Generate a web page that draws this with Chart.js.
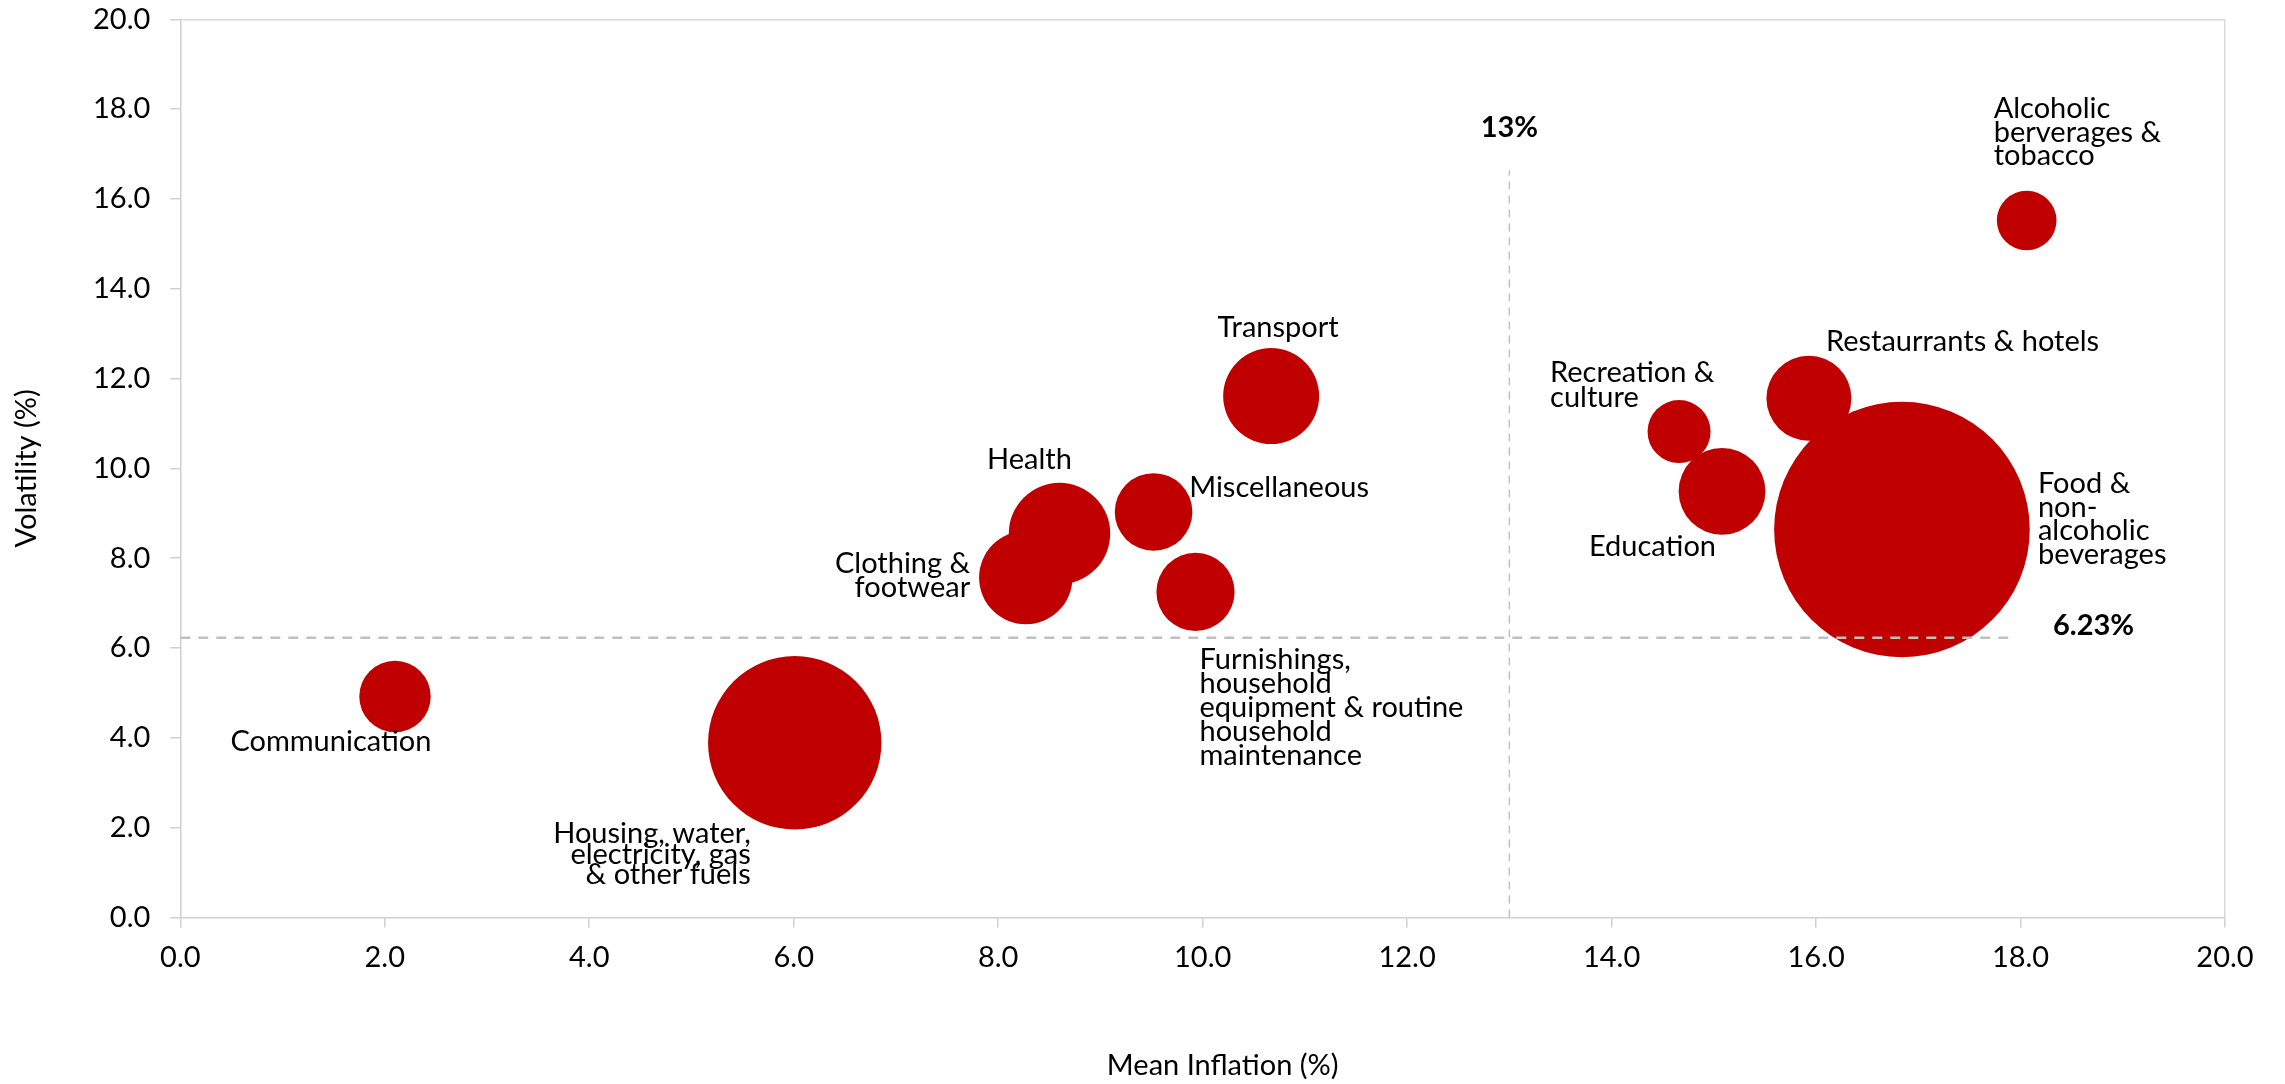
<!DOCTYPE html>
<html>
<head>
<meta charset="utf-8">
<title>Mean Inflation vs Volatility by CPI Group</title>
<script src="https://cdn.jsdelivr.net/npm/chart.js@4.4.1/dist/chart.umd.min.js"></script>
<style>
  html, body { margin: 0; padding: 0; background: #ffffff; }
  #wrap { width: 2285px; height: 1084px; position: relative; }
</style>
</head>
<body>
<div id="wrap"><canvas id="chart"></canvas></div>
<script>
// CPI groups
const categories = [
  'Food & non-alcoholic beverages',
  'Alcoholic berverages & tobacco',
  'Clothing & footwear',
  'Housing, water, electricity, gas & other fuels',
  'Furnishings, household equipment & routine household maintenance',
  'Health',
  'Transport',
  'Communication',
  'Recreation & culture',
  'Education',
  'Restaurrants & hotels',
  'Miscellaneous'
];

// Label text as wrapped on the chart
const labelLines = [
  ['Food &', 'non-', 'alcoholic', 'beverages'],
  ['Alcoholic', 'berverages &', 'tobacco'],
  ['Clothing &', 'footwear'],
  ['Housing, water,', 'electricity, gas', '& other fuels'],
  ['Furnishings,', 'household', 'equipment & routine', 'household', 'maintenance'],
  ['Health'],
  ['Transport'],
  ['Communication'],
  ['Recreation &', 'culture'],
  ['Education'],
  ['Restaurrants & hotels'],
  ['Miscellaneous']
];

// Mean inflation (%) - x
const meanInflation = [16.84, 18.06, 8.27, 6.01, 9.93, 8.60, 10.67, 2.10, 14.66, 15.08, 15.93, 9.52];
// Volatility (%) - y
const volatility = [8.64, 15.52, 7.57, 3.89, 7.25, 8.55, 11.61, 4.92, 10.82, 9.49, 11.56, 9.03];
// Bubble size (group weight)
const bubbleSize = [43.9, 2.39, 5.86, 20.2, 4.11, 6.91, 6.19, 3.43, 2.67, 5.06, 4.85, 4.05];

// Reference thresholds
const inflationThreshold = 13;       // vertical line
const inflationLineTop = 16.64;      // vertical line runs from 0 up to here
const volatilityThreshold = 6.23;    // horizontal line
const volatilityLineEnd = 17.95;     // horizontal line runs from 0 to here

// Axis ticks and titles
const axisMin = 0, axisMax = 20, axisStep = 2;
const xTitle = 'Mean Inflation (%)';
const yTitle = 'Volatility (%)';

// ---- styling / layout ----
const RED = '#C00000';
const FONT = 'Lato';
const FONT_SIZE = 29;
const MAX_RADIUS = 127.8;
const maxSize = Math.max(...bubbleSize);
const radiusOf = s => MAX_RADIUS * Math.sqrt(s / maxSize);

// label placement relative to the bubble centre (px): dx, dy to first baseline
const labelLayout = [
  { align: 'left',   dx: 136,   dy: -36.4, lh: 23.6 },
  { align: 'left',   dx: -33,   dy: -102,  lh: 23.3 },
  { align: 'right',  dx: -55.6, dy: -4.3,  lh: 23.4 },
  { align: 'right',  dx: -44,   dy: 100,   lh: 20.7 },
  { align: 'left',   dx: 4,     dy: 77.5,  lh: 24 },
  { align: 'center', dx: -30,   dy: -64.5, lh: 24 },
  { align: 'center', dx: 7,     dy: -59.5, lh: 24 },
  { align: 'right',  dx: 36.5,  dy: 54,    lh: 24 },
  { align: 'left',   dx: -129,  dy: -49.4, lh: 24.9 },
  { align: 'right',  dx: -6,    dy: 65,    lh: 24 },
  { align: 'left',   dx: 17,    dy: -47,   lh: 24 },
  { align: 'left',   dx: 35.6,  dy: -15.3, lh: 24 }
];

const bubbles = meanInflation.map((x, i) => ({ x, y: volatility[i], r: radiusOf(bubbleSize[i]) }));

const labelPlugin = {
  id: 'groupLabels',
  afterDatasetsDraw(chart) {
    const ctx = chart.ctx;
    const area = chart.chartArea;
    ctx.save();
    ctx.fillStyle = '#000000';
    ctx.textBaseline = 'alphabetic';
    ctx.font = FONT_SIZE + 'px ' + FONT;
    // bubble labels
    const meta = chart.getDatasetMeta(2);
    meta.data.forEach((pt, i) => {
      const L = labelLayout[i];
      ctx.textAlign = L.align;
      labelLines[i].forEach((line, k) => {
        ctx.fillText(line, pt.x + L.dx, pt.y + L.dy + k * L.lh);
      });
    });
    // horizontal axis title, set slightly right of the plot centre
    ctx.textAlign = 'center';
    ctx.textBaseline = 'middle';
    ctx.fillText(xTitle, (area.left + area.right) / 2 + 20, chart.height - 18);
    // threshold labels
    ctx.textBaseline = 'alphabetic';
    ctx.font = 'bold ' + FONT_SIZE + 'px ' + FONT;
    const vTop = chart.getDatasetMeta(0).data[1];
    ctx.textAlign = 'center';
    ctx.fillText(Math.round(inflationThreshold) + '%', vTop.x, vTop.y - 33.4);
    const hEnd = chart.getDatasetMeta(1).data[1];
    ctx.textAlign = 'left';
    ctx.fillText(volatilityThreshold.toFixed(2) + '%', hEnd.x + 37.5, hEnd.y - 2.3);
    ctx.restore();
  }
};

const AXIS_GRAY = '#d0d0d0';
const EDGE_GRAY = '#d9d9d9';

function build() {
  new Chart(document.getElementById('chart'), {
    type: 'bubble',
    data: {
      datasets: [
        {
          type: 'scatter',
          label: 'Mean inflation threshold',
          data: [{ x: inflationThreshold, y: 0 }, { x: inflationThreshold, y: inflationLineTop }],
          showLine: true,
          borderColor: '#c0c0c0',
          borderWidth: 1.5,
          borderDash: [8, 6],
          pointRadius: 0,
          order: -2
        },
        {
          type: 'scatter',
          label: 'Volatility threshold',
          data: [{ x: 0, y: volatilityThreshold }, { x: volatilityLineEnd, y: volatilityThreshold }],
          showLine: true,
          borderColor: '#c0c0c0',
          borderWidth: 2.5,
          borderDash: [10, 8],
          pointRadius: 0,
          order: -1
        },
        {
          label: 'CPI groups',
          data: bubbles,
          backgroundColor: RED,
          borderWidth: 0,
          hoverRadius: 0,
          order: 0
        }
      ]
    },
    options: {
      responsive: true,
      maintainAspectRatio: false,
      animation: false,
      events: [],
      layout: { autoPadding: false, padding: { top: 0, right: 60, bottom: 0, left: 0 } },
      plugins: {
        legend: { display: false },
        tooltip: { enabled: false }
      },
      scales: {
        x: {
          type: 'linear',
          min: axisMin,
          max: axisMax,
          afterFit: s => { s.height = 166.5; },
          ticks: {
            stepSize: axisStep,
            callback: v => Number(v).toFixed(1),
            font: { family: FONT, size: FONT_SIZE },
            color: '#000000',
            padding: 13,
            maxRotation: 0
          },
          grid: {
            color: c => (c.tick && c.tick.value === axisMax) ? EDGE_GRAY : 'rgba(0,0,0,0)',
            lineWidth: 1.5,
            tickColor: AXIS_GRAY,
            tickLength: 10
          },
          border: { color: AXIS_GRAY, width: 1.5 },
          title: { display: false }
        },
        y: {
          type: 'linear',
          min: axisMin,
          max: axisMax,
          afterFit: s => { s.width = 180.3; s.paddingTop = 19.3; },
          ticks: {
            stepSize: axisStep,
            callback: v => Number(v).toFixed(1),
            font: { family: FONT, size: FONT_SIZE },
            color: '#000000',
            padding: 20
          },
          grid: {
            color: c => (c.tick && c.tick.value === axisMax) ? EDGE_GRAY : 'rgba(0,0,0,0)',
            lineWidth: 1.5,
            tickColor: AXIS_GRAY,
            tickLength: 10
          },
          border: { color: AXIS_GRAY, width: 1.5 },
          title: {
            display: true,
            text: yTitle,
            font: { family: FONT, size: FONT_SIZE },
            color: '#000000',
            padding: { top: 9, bottom: 0 }
          }
        }
      }
    },
    plugins: [labelPlugin]
  });
}

if (document.fonts && document.fonts.load) {
  Promise.all([
    document.fonts.load(FONT_SIZE + 'px ' + FONT),
    document.fonts.load('bold ' + FONT_SIZE + 'px ' + FONT)
  ]).then(build, build);
} else {
  build();
}
</script>
</body>
</html>
